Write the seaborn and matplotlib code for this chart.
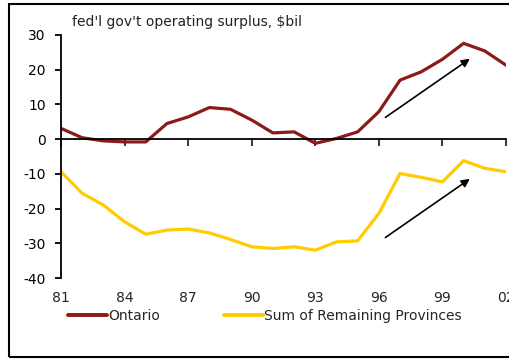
import numpy as np
import pandas as pd
import seaborn as sns
import matplotlib.pyplot as plt
from matplotlib.patches import Rectangle

# data
years = list(range(1981, 2003))
ontario = [3.1, 0.4, -0.5, -0.8, -0.8, 4.5, 6.4, 9.1, 8.6, 5.5, 1.8,
           2.1, -1.2, 0.2, 2.1, 7.9, 17.0, 19.4, 23.0, 27.6, 25.4, 21.3]
remaining = [-9.4, -15.6, -19.0, -23.8, -27.4, -26.2, -25.9, -27.0, -28.9, -31.0, -31.5,
             -31.0, -32.0, -29.6, -29.3, -21.4, -9.9, -11.0, -12.3, -6.2, -8.4, -9.4]
series_names = ["Ontario", "Sum of Remaining Provinces"]
xtick_years = [1981, 1984, 1987, 1990, 1993, 1996, 1999, 2002]
xtick_labels = ["81", "84", "87", "90", "93", "96", "99", "02"]
yticks = [30, 20, 10, 0, -10, -20, -30, -40]

df = pd.DataFrame({
    "year": years * 2,
    "value": ontario + remaining,
    "series": [series_names[0]] * len(years) + [series_names[1]] * len(years),
})

sns.set_style("white")
plt.rcParams['font.family'] = ['DejaVu Sans']
plt.rcParams['axes.unicode_minus'] = False

fig = plt.figure(figsize=(5.09, 3.6), dpi=100)
ax = fig.add_axes([61 / 509, 82 / 360, 445 / 509, 243 / 360])

palette = {series_names[0]: "#8b1a1a", series_names[1]: "#ffcc00"}
sns.lineplot(data=df, x="year", y="value", hue="series", palette=palette,
             linewidth=2.3, ax=ax, legend=False)

ax.set_xlim(1981, 2002)
ax.set_ylim(-40, 30)
ax.set_xlabel("")
ax.set_ylabel("")

# spines: left axis, x axis on zero line
ax.spines["top"].set_visible(False)
ax.spines["right"].set_visible(False)
ax.spines["left"].set_linewidth(1.3)
ax.spines["bottom"].set_position(("data", 0))
ax.spines["bottom"].set_linewidth(1.3)
for s in ("left", "bottom"):
    ax.spines[s].set_color("black")

ax.set_yticks(yticks)
ax.tick_params(axis="y", direction="out", length=4, width=1.3, pad=7,
               labelsize=10, left=True, colors="black")
ax.set_xticks(xtick_years)
ax.tick_params(axis="x", direction="out", length=5, width=1.3,
               bottom=True, labelbottom=False)

# x labels at the bottom of the plot
sec = ax.secondary_xaxis("bottom")
sec.set_xticks(xtick_years)
sec.set_xticklabels(xtick_labels)
sec.spines["bottom"].set_visible(False)
sec.tick_params(length=0, pad=9.5, labelsize=10)

# trend arrows
ax.annotate("", xy=(2000.4, 23.6), xytext=(1996.2, 5.8),
            arrowprops=dict(arrowstyle="-|>", color="black", lw=1.2, mutation_scale=12))
ax.annotate("", xy=(2000.4, -11.0), xytext=(1996.2, -28.8),
            arrowprops=dict(arrowstyle="-|>", color="black", lw=1.2, mutation_scale=12))

fig.text(72 / 509, (360 - 22) / 360, "fed'l gov't operating surplus, $bil",
         fontsize=10, va="center", ha="left", color="#222222")

# legend
handles = [plt.Line2D([], [], color=palette[n], lw=2.8) for n in series_names]
fig.legend(handles, series_names, loc="center left", ncol=2, frameon=False,
           bbox_to_anchor=(68 / 509, (360 - 316) / 360), fontsize=10,
           borderpad=0, borderaxespad=0,
           handlelength=2.8, handletextpad=0.1, columnspacing=4.6)

# outer frame
fig.patches.append(Rectangle((9 / 509, 3 / 360), 0.99, (353) / 360, transform=fig.transFigure,
                             fill=False, edgecolor="black", lw=1.5))

fig.savefig("out.png", dpi=100)
